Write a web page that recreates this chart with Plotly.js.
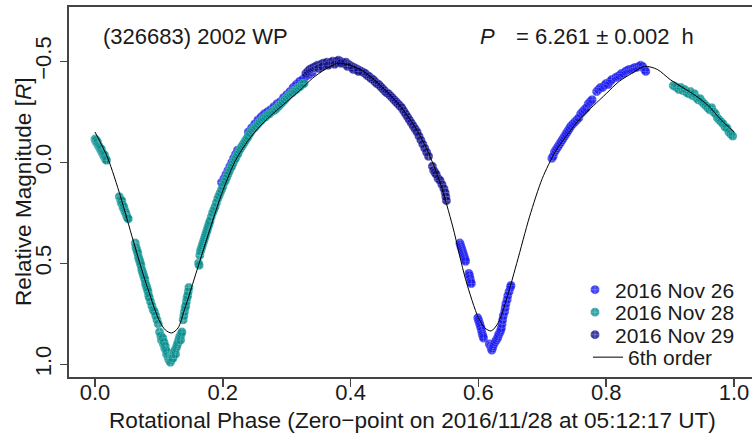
<!DOCTYPE html>
<html><head><meta charset="utf-8">
<script src="https://cdn.plot.ly/plotly-3.0.1.min.js"></script>
<style>html,body{margin:0;padding:0;background:#fff;}#chart{width:752px;height:436px;}</style>
</head><body><div id="chart"></div>
<script>
// ---- data ----
const phase26 = [0.198,0.202,0.205,0.208,0.211,0.214,0.217,0.220,0.223,0.240,0.245,0.250,0.255,0.260,0.265,0.270,0.275,0.280,0.285,0.290,0.295,0.300,0.305,0.310,0.315,0.320,0.325,0.330,0.335,0.340,
 0.571,0.572,0.573,0.574,0.575,0.576,0.577,0.578,0.579,0.580,0.585,0.586,0.587,0.588,0.589,0.599,0.600,0.601,0.602,0.603,0.604,0.605,0.606,0.607,0.608,0.617,0.619,0.620,0.621,0.622,0.623,0.624,0.626,0.628,0.630,0.631,0.632,0.634,0.635,0.636,0.637,0.638,0.639,0.641,0.642,0.643,0.645,0.646,0.648,0.650,0.651,
 0.715,0.717,0.719,0.721,0.723,0.725,0.727,0.729,0.731,0.733,0.735,0.737,0.739,0.741,0.743,0.745,0.748,0.751,0.754,0.757,0.760,0.763,0.766,0.769,0.772,0.775,0.778,0.785,0.788,0.791,0.794,0.797,0.800,0.803,0.806,0.809,0.815,0.818,0.821,0.824,0.827,0.830,0.833,0.836,0.839,0.842,0.845,0.848,0.851,0.854,0.857,0.860,0.862];
const mag26 = [0.10,0.08,0.06,0.04,0.02,0.00,-0.02,-0.04,-0.06,-0.15,-0.17,-0.19,-0.21,-0.225,-0.24,-0.25,-0.26,-0.275,-0.29,-0.30,-0.32,-0.335,-0.35,-0.37,-0.385,-0.40,-0.41,-0.425,-0.435,-0.445,
 0.40,0.41,0.42,0.43,0.44,0.45,0.46,0.47,0.48,0.49,0.55,0.56,0.575,0.59,0.60,0.77,0.78,0.79,0.80,0.81,0.82,0.835,0.85,0.86,0.87,0.90,0.91,0.92,0.93,0.92,0.91,0.90,0.89,0.88,0.87,0.86,0.85,0.84,0.83,0.82,0.80,0.78,0.76,0.74,0.72,0.70,0.68,0.66,0.64,0.62,0.61,
 -0.02,-0.03,-0.05,-0.06,-0.07,-0.08,-0.09,-0.10,-0.11,-0.12,-0.13,-0.14,-0.15,-0.16,-0.17,-0.18,-0.19,-0.20,-0.21,-0.22,-0.24,-0.25,-0.26,-0.27,-0.29,-0.30,-0.31,-0.35,-0.36,-0.37,-0.37,-0.38,-0.39,-0.385,-0.40,-0.41,-0.42,-0.425,-0.43,-0.44,-0.44,-0.45,-0.455,-0.46,-0.46,-0.465,-0.47,-0.47,-0.475,-0.48,-0.475,-0.46,-0.45];

const phase28 = [0.000,0.001,0.002,0.003,0.004,0.005,0.006,0.007,0.008,0.009,0.010,0.011,0.012,0.013,0.014,0.015,0.016,0.017,0.018,
 0.038,0.040,0.041,0.042,0.043,0.044,0.045,0.046,0.047,0.048,0.049,0.050,0.051,0.052,
 0.063,0.064,0.065,0.066,0.067,0.068,0.069,0.070,0.071,0.072,0.073,0.074,0.075,0.076,0.077,0.078,0.079,0.080,0.081,0.082,0.083,0.084,0.085,0.087,0.089,0.091,0.093,0.095,0.097,0.099,
 0.101,0.103,0.104,0.106,0.107,0.108,0.109,0.110,0.111,0.112,0.113,0.114,0.115,0.116,0.117,0.118,0.119,0.120,0.121,0.122,0.123,0.124,0.125,0.126,0.127,0.128,0.129,0.130,0.131,0.132,0.133,0.134,0.135,0.136,
 0.138,0.139,0.140,0.141,0.142,0.143,0.144,0.145,0.146,0.147,
 0.162,0.163,0.164,0.165,0.166,0.167,0.168,0.169,0.170,0.171,0.172,0.173,0.174,0.175,0.176,0.177,0.178,0.179,0.180,
 0.182,0.184,0.186,0.188,0.190,0.192,0.194,0.196,0.198,0.200,0.202,0.204,0.206,0.208,0.210,0.212,0.214,0.216,0.218,0.220,0.222,0.224,0.226,0.228,0.230,0.232,0.234,0.236,0.238,0.240,
 0.243,0.246,0.249,0.252,0.255,0.258,0.261,0.264,0.267,0.270,0.273,0.276,0.279,0.282,0.285,0.288,0.291,0.294,0.297,0.300,0.303,0.306,0.309,0.312,0.315,0.318,0.321,0.324,0.327,
 0.905,0.908,0.911,0.914,0.917,0.920,0.923,0.926,0.929,0.932,0.935,0.938,0.941,0.944,0.947,0.950,0.953,0.956,0.959,0.962,0.965,0.968,0.971,0.974,0.977,0.980,0.983,0.986,0.989,0.992,0.995,0.998];
const mag28 = [-0.115,-0.105,-0.110,-0.095,-0.100,-0.085,-0.080,-0.075,-0.070,-0.060,-0.065,-0.050,-0.045,-0.040,-0.030,-0.035,-0.020,-0.015,-0.010,
 0.170,0.185,0.200,0.190,0.210,0.225,0.220,0.235,0.245,0.250,0.260,0.270,0.275,0.280,
 0.40,0.42,0.43,0.44,0.45,0.47,0.48,0.49,0.50,0.51,0.53,0.54,0.55,0.56,0.57,0.58,0.60,0.61,0.62,0.63,0.64,0.66,0.67,0.69,0.71,0.73,0.74,0.76,0.78,0.80,
 0.84,0.86,0.88,0.87,0.90,0.89,0.92,0.91,0.93,0.95,0.94,0.96,0.97,0.98,0.97,0.99,0.98,0.97,0.96,0.97,0.95,0.94,0.93,0.95,0.92,0.91,0.90,0.89,0.88,0.87,0.86,0.88,0.85,0.84,
 0.78,0.76,0.74,0.72,0.71,0.69,0.67,0.66,0.64,0.62,
 0.50,0.51,0.46,0.44,0.43,0.42,0.41,0.40,0.39,0.38,0.37,0.36,0.35,0.34,0.33,0.32,0.31,0.30,0.29,
 0.27,0.25,0.235,0.22,0.20,0.18,0.165,0.15,0.135,0.12,0.10,0.09,0.075,0.06,0.045,0.03,0.02,0.005,-0.01,-0.02,-0.035,-0.045,-0.06,-0.07,-0.08,-0.09,-0.10,-0.11,-0.12,-0.13,
 -0.145,-0.16,-0.17,-0.18,-0.19,-0.20,-0.21,-0.22,-0.225,-0.235,-0.24,-0.25,-0.255,-0.26,-0.27,-0.28,-0.29,-0.30,-0.31,-0.32,-0.33,-0.34,-0.345,-0.355,-0.36,-0.37,-0.375,-0.385,-0.39,
 -0.38,-0.375,-0.37,-0.36,-0.37,-0.355,-0.36,-0.345,-0.34,-0.35,-0.33,-0.34,-0.32,-0.31,-0.315,-0.30,-0.29,-0.28,-0.27,-0.26,-0.27,-0.25,-0.24,-0.22,-0.21,-0.20,-0.19,-0.175,-0.17,-0.15,-0.14,-0.13];

const phase29 = [0.330,0.333,0.336,0.339,0.342,0.345,0.348,0.351,0.354,0.357,0.360,0.363,0.366,0.369,0.372,0.375,0.378,0.381,0.384,0.387,0.390,0.393,0.396,0.399,0.402,0.405,0.408,0.411,0.414,0.417,0.420,0.423,0.426,0.429,0.432,0.435,0.438,0.441,0.444,0.447,0.450,0.453,0.456,0.459,0.462,0.465,0.468,0.471,0.474,0.477,0.480,0.483,0.486,0.489,0.492,0.495,0.498,0.501,0.504,0.507,0.510,0.513,0.516,0.519,0.522,
 0.528,0.530,0.532,0.534,0.537,0.540,0.543,0.546,0.548,0.549,0.550,
 0.350,0.356,0.365,0.375,0.385,0.395,0.404,0.412];
const mag29 = [-0.44,-0.45,-0.46,-0.465,-0.47,-0.475,-0.48,-0.48,-0.485,-0.49,-0.49,-0.495,-0.49,-0.495,-0.50,-0.495,-0.50,-0.505,-0.50,-0.495,-0.49,-0.495,-0.485,-0.48,-0.475,-0.47,-0.465,-0.46,-0.455,-0.45,-0.445,-0.44,-0.43,-0.425,-0.415,-0.41,-0.40,-0.39,-0.385,-0.375,-0.365,-0.355,-0.345,-0.34,-0.33,-0.32,-0.31,-0.30,-0.29,-0.28,-0.27,-0.255,-0.24,-0.225,-0.21,-0.195,-0.18,-0.165,-0.15,-0.13,-0.11,-0.09,-0.07,-0.05,-0.03,
 0.02,0.04,0.05,0.06,0.08,0.09,0.11,0.13,0.15,0.17,0.19,
 -0.465,-0.475,-0.48,-0.485,-0.49,-0.475,-0.46,-0.45];

const fitPhase = [0,0.02,0.04,0.06,0.08,0.10,0.11,0.12,0.13,0.14,0.16,0.18,0.20,0.22,0.24,0.26,0.28,0.30,0.32,0.34,0.36,0.38,0.40,0.42,0.44,0.46,0.48,0.50,0.52,0.54,0.56,0.58,0.60,0.61,0.62,0.63,0.64,0.66,0.68,0.70,0.72,0.74,0.76,0.78,0.80,0.82,0.84,0.86,0.88,0.90,0.92,0.94,0.96,0.98,1.00];
const fitMag = [-0.15,-0.02,0.17,0.39,0.60,0.78,0.83,0.845,0.82,0.73,0.53,0.33,0.14,-0.01,-0.11,-0.185,-0.245,-0.30,-0.355,-0.415,-0.46,-0.49,-0.48,-0.45,-0.40,-0.34,-0.27,-0.18,-0.06,0.10,0.32,0.58,0.77,0.82,0.835,0.80,0.72,0.50,0.27,0.08,-0.05,-0.14,-0.22,-0.28,-0.34,-0.40,-0.44,-0.475,-0.46,-0.41,-0.37,-0.33,-0.28,-0.21,-0.15];

const seriesNames = ["2016 Nov 26","2016 Nov 28","2016 Nov 29"];
const fitName = "6th order";
const xTicks = [0,0.2,0.4,0.6,0.8,1.0];
const xTickText = ["0.0","0.2","0.4","0.6","0.8","1.0"];
const yTicks = [-0.5,0,0.5,1.0];
const yTickText = ["\u22120.5","0.0","0.5","1.0"];

// ---- styling ----
const FONT = "Liberation Sans, Arial, Helvetica, sans-serif";
const TXT = "#1a1a1a";
const colors = ["rgb(20,20,240)","rgb(0,140,140)","rgb(10,10,140)"];
function pts(x, y, i) {
  return {type:"scatter", mode:"markers", x:x, y:y, name:seriesNames[i],
    legend: i===0 ? "legend" : "legend"+(i+1),
    marker:{symbol:"circle-cross", size:9, color:colors[i], opacity:0.8,
      line:{color:"rgba(255,255,255,0.4)", width:0.6}},
    hoverinfo:"skip"};
}
const traces = [
  pts(phase26, mag26, 0),
  pts(phase28, mag28, 1),
  pts(phase29, mag29, 2),
  {type:"scatter", mode:"lines", x:fitPhase, y:fitMag, name:fitName, legend:"legend4",
   line:{color:"#000", width:1, shape:"spline", smoothing:0.8}, hoverinfo:"skip"}
];

const L = 69, T = 7, B = 59, W = 752, H = 436;
const pw = W - L, ph = H - T - B;
const px = v => (v - L) / pw;
const py = v => (H - B - v) / ph;

function leg(yPix, xPix) {
  return {x:px(xPix), y:py(yPix), xanchor:"left", yanchor:"middle", bgcolor:"rgba(0,0,0,0)",
    borderwidth:0, itemwidth:30, font:{family:FONT, size:21, color:TXT}, tracegroupgap:0};
}

const layout = {
  width:W, height:H, margin:{l:L, r:0, t:T, b:B, pad:0},
  paper_bgcolor:"#fff", plot_bgcolor:"#fff",
  font:{family:FONT, size:22, color:TXT},
  showlegend:true,
  legend: leg(290, 575),
  legend2: leg(312.5, 575),
  legend3: leg(335, 575),
  legend4: leg(357.5, 588),
  xaxis:{range:[-0.0407, 1.0282], tickvals:xTicks, ticktext:xTickText, ticks:"outside", ticklen:8,
    tickwidth:1.5, tickcolor:"#444", showline:true, mirror:true, linecolor:"#444", linewidth:2,
    showgrid:false, zeroline:false, ticklabelstandoff:-13, tickfont:{family:FONT, size:22, color:TXT}},
  yaxis:{range:[1.063, -0.769], tickvals:yTicks, ticktext:yTickText, ticks:"outside", ticklen:7,
    tickwidth:1.5, tickcolor:"#444", showline:true, mirror:false, linecolor:"#444", linewidth:2,
    showgrid:false, zeroline:false, tickangle:-90, tickfont:{family:FONT, size:22, color:TXT}},
  annotations:[
    {xref:"paper", yref:"paper", x:px(412), y:py(420), xanchor:"center", yanchor:"middle", showarrow:false,
     text:"Rotational Phase (Zero\u2212point on 2016/11/28 at 05:12:17 UT)", font:{size:22.6}},
    {xref:"paper", yref:"paper", x:px(23), y:py(192), xanchor:"center", yanchor:"middle", showarrow:false,
     textangle:-90, text:"Relative Magnitude [<i>R</i>]", font:{size:22.6}},
    {xref:"paper", yref:"paper", x:px(101), y:py(37), xanchor:"left", yanchor:"middle", showarrow:false,
     text:"(326683) 2002 WP", font:{size:22}},
    {xref:"paper", yref:"paper", x:px(478), y:py(37), xanchor:"left", yanchor:"middle", showarrow:false,
     text:"<i>P</i>", font:{size:22}},
    {xref:"paper", yref:"paper", x:px(514), y:py(37), xanchor:"left", yanchor:"middle", showarrow:false,
     text:"= 6.261 \u00b1 0.002 \u00a0h", font:{size:22}}
  ]
};

Plotly.newPlot("chart", traces, layout, {staticPlot:true, displayModeBar:false});
</script></body></html>
